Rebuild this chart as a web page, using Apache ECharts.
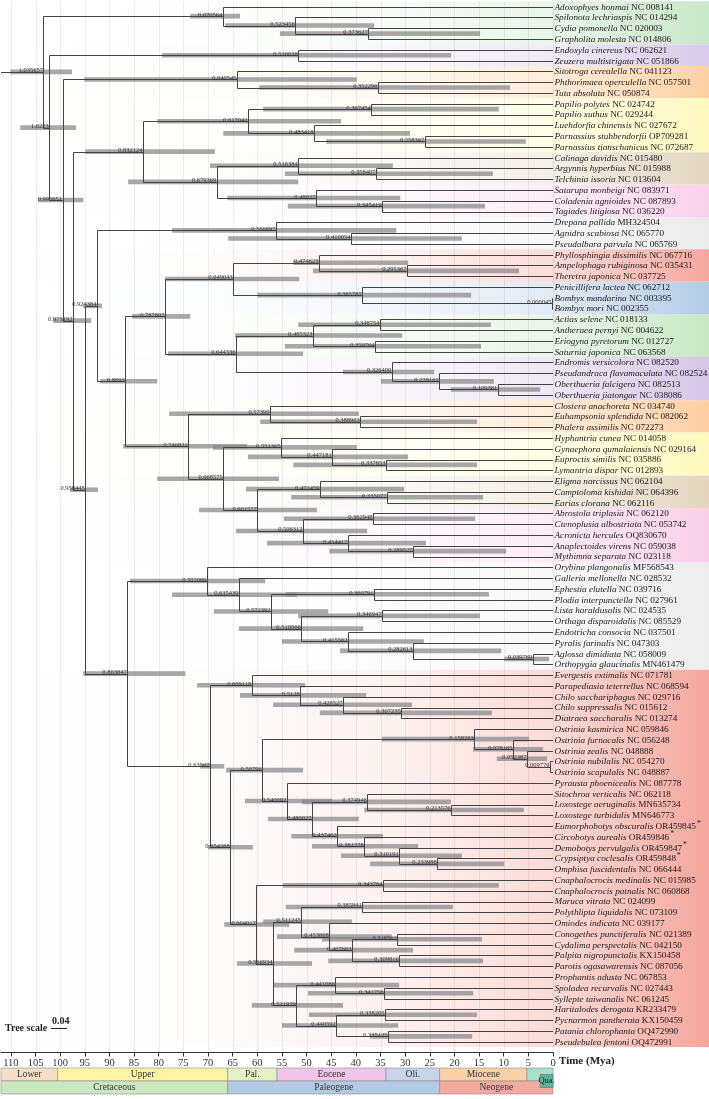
<!DOCTYPE html>
<html><head><meta charset="utf-8">
<script src="https://cdn.jsdelivr.net/npm/echarts@6/dist/echarts.min.js"></script>
<style>html,body{margin:0;padding:0;background:#fff}#c{width:709px;height:1099px}</style>
</head><body><div id="c"></div>
<script>
// ---------- DATA ----------
const species = ['Adoxophyes honmai','Spilonota lechriaspis','Cydia pomonella','Grapholita molesta','Endoxyla cinereus','Zeuzera multistrigata','Sitotroga cerealella','Phthorimaea operculella','Tuta absoluta','Papilio polytes','Papilio xuthus','Luehdorfia chinensis','Parnassius stubbendorfii','Parnassius tianschanicus','Calinaga davidis','Argynnis hyperbius','Telchinia issoria','Satarupa monbeigi','Coladenia agnioides','Tagiades litigiosa','Drepana pallida','Agnidra scabiosa','Pseudalbara parvula','Phyllosphingia dissimilis','Ampelophaga rubiginosa','Theretra japonica','Penicillifera lactea','Bombyx mandarina','Bombyx mori','Actias selene','Antheraea pernyi','Eriogyna pyretorum','Saturnia japonica','Endromis versicolora','Pseudandraca flavamaculata','Oberthueria falcigera','Oberthueria jiatongae','Clostera anachoreta','Euhampsonia splendida','Phalera assimilis','Hyphantria cunea','Gynaephora qumalaiensis','Euproctis similis','Lymantria dispar','Eligma narcissus','Camptoloma kishidai','Earias clorana','Abrostola triplasia','Ctenoplusia albostriata','Acronicta hercules','Anaplectoides virens','Mythimna separata','Orybina plangonalis','Galleria mellonella','Ephestia elutella','Plodia interpunctella','Lista haraldusalis','Orthaga disparoidalis','Endotricha consocia','Pyralis farinalis','Aglossa dimidiata','Orthopygia glaucinalis','Evergestis extimalis','Parapediasia teterrellus','Chilo sacchariphagus','Chilo suppressalis','Diatraea saccharalis','Ostrinia kasmirica','Ostrinia furnacalis','Ostrinia zealis','Ostrinia nubilalis','Ostrinia scapulalis','Pyrausta phoenicealis','Sitochroa verticalis','Loxostege aeruginalis','Loxostege turbidalis','Eumorphobotys obscuralis','Circobotys aurealis','Demobotys pervulgalis','Crypsiptya coclesalis','Omphisa fuscidentalis','Cnaphalocrocis medinalis','Cnaphalocrocis patnalis','Maruca vitrata','Polythlipta liquidalis','Omiodes indicata','Conogethes punctiferalis','Cydalima perspectalis','Palpita nigropunctalis','Parotis ogasawarensis','Prophantis adusta','Spoladea recurvalis','Syllepte taiwanalis','Haritalodes derogata','Pycnarmon pantherata','Patania chlorophanta','Pseudebulea fentoni'];
const accessions = ['NC 008141','NC 014294','NC 020003','NC 014806','NC 062621','NC 051866','NC 041123','NC 057501','NC 050874','NC 024742','NC 029244','NC 027672','OP709281','NC 072687','NC 015480','NC 015988','NC 013604','NC 083971','NC 087893','NC 036220','MH324504','NC 065770','NC 065769','NC 067716','NC 035431','NC 037725','NC 062712','NC 003395','NC 002355','NC 018133','NC 004622','NC 012727','NC 063568','NC 082520','NC 082524','NC 082513','NC 038086','NC 034740','NC 082062','NC 072273','NC 014058','NC 029164','NC 035886','NC 012893','NC 062104','NC 064396','NC 062116','NC 062120','NC 053742','OQ830670','NC 059038','NC 023118','MF568543','NC 028532','NC 039716','NC 027961','NC 024535','NC 085529','NC 037501','NC 047303','NC 058009','MN461479','NC 071781','NC 068594','NC 029716','NC 015612','NC 013274','NC 059846','NC 056248','NC 048888','NC 054270','NC 048887','NC 087778','NC 062118','MN635734','MN646773','OR459845','OR459846','OR459847','OR459848','NC 066444','NC 015985','NC 060868','NC 024099','NC 073109','NC 039177','NC 021389','NC 042150','KX150458','NC 087056','NC 067853','NC 027443','NC 061245','KR233479','KX150459','OQ472990','OQ472991'];
const starredLeaves = [77, 78, 79, 80];

// internal node: [id, child1, child2]  (leaves are L1..L97)
const topology = [
['R','T','N1'],['T','L1','T2'],['T2','L2','T3'],['T3','L3','L4'],
['N1','C','N2'],['C','L5','L6'],['N2','G','N3'],['G','L7','G2'],['G2','L8','L9'],
['N3','P','N4'],['P','Pa','Ny'],['Pa','Pa1','Pa2'],['Pa1','L10','L11'],['Pa2','L12','Pa3'],['Pa3','L13','L14'],
['Ny','Ny1','He'],['Ny1','L15','Ny2'],['Ny2','L16','L17'],['He','L18','He2'],['He2','L19','L20'],
['N4','N5','N13'],['N5','D','N6'],['D','L21','D2'],['D2','L22','L23'],
['N6','N7','N10'],['N7','S','Sa'],['S','Sp','B'],['Sp','L24','Sp2'],['Sp2','L25','L26'],['B','L27','B2'],['B2','L28','L29'],
['Sa','Sa1','E'],['Sa1','Sa2','Sa3'],['Sa2','L30','L31'],['Sa3','L32','L33'],['E','L34','E2'],['E2','L35','E3'],['E3','L36','L37'],
['N10','No','N11'],['No','L38','No2'],['No2','L39','L40'],['N11','Er','N12'],['Er','L41','Er2'],['Er2','L42','Er3'],['Er3','L43','L44'],
['N12','Nl','Nc'],['Nl','L45','Nl2'],['Nl2','L46','L47'],['Nc','Nc1','Nc2'],['Nc1','L48','L49'],['Nc2','L50','Nc3'],['Nc3','L51','L52'],
['N13','Py','Cr'],['Py','L53','Py2'],['Py2','L54','Py3'],['Py3','Py4','Py5'],['Py4','L55','L56'],['Py5','Py6','Py7'],['Py6','L57','L58'],['Py7','L59','Py8'],['Py8','L60','Py9'],['Py9','L61','L62'],
['Cr','Cr1','Cr2'],['Cr1','L63','Cr1b'],['Cr1b','L64','Cr1c'],['Cr1c','L65','Cr1d'],['Cr1d','L66','L67'],
['Cr2','Cr3','Cr4'],['Cr3','Os','Cr5'],['Os','L68','Os2'],['Os2','L69','Os3'],['Os3','L70','Os4'],['Os4','L71','L72'],
['Cr5','L73','Pt'],['Pt','Pt1','Pt2'],['Pt1','L74','Lo'],['Lo','L75','L76'],['Pt2','L77','Pt3'],['Pt3','L78','Pt4'],['Pt4','L79','Pt5'],['Pt5','L80','L81'],
['Cr4','Cn','Q'],['Cn','L82','L83'],['Q','Q1','Q2'],['Q1','Q1a','Q1b'],['Q1a','L84','L85'],['Q1b','L86','Q1c'],['Q1c','Q1d','Q1e'],['Q1d','L87','L88'],['Q1e','L89','L90'],
['Q2','Q2a','Q2b'],['Q2a','L91','Q2c'],['Q2c','L92','L93'],['Q2b','Q2d','Q2e'],['Q2d','L94','L95'],['Q2e','L96','L97']
];
// node label (tree height) shown at each node
const nodeLabels = [
['R','1.035657'],['T','0.670564'],['T2','0.523456'],['T3','0.373627'],['N1','1.0223'],['C','0.516038'],['N2','0.995651'],['G','0.640545'],['G2','0.352296'],
['N3','0.973192'],['P','0.832124'],['Pa','0.617042'],['Pa1','0.367454'],['Pa2','0.483418'],['Pa3','0.258367'],['Ny','0.679369'],['Ny1','0.516384'],['Ny2','0.358407'],['He','0.48027'],['He2','0.345419'],
['N4','0.958445'],['N5','0.924384'],['D','0.566897'],['D2','0.410054'],['N6','0.8693'],['N7','0.787807'],['S','0.649043'],['Sp','0.474623'],['Sp2','0.295367'],['B','0.385787'],['B2','0.000045'],
['Sa','0.644336'],['Sa1','0.485323'],['Sa2','0.348754'],['Sa3','0.359764'],['E','0.326400'],['E2','0.229162'],['E3','0.109381'],
['N10','0.740822'],['No','0.57399'],['No2','0.388963'],['N11','0.668575'],['Er','0.551365'],['Er2','0.447181'],['Er3','0.337853'],
['N12','0.601577'],['Nl','0.471459'],['Nl2','0.335077'],['Nc','0.506312'],['Nc1','0.362948'],['Nc2','0.414417'],['Nc3','0.289527'],
['N13','0.863847'],['Py','0.702089'],['Py2','0.635439'],['Py3','0.572392'],['Py4','0.360791'],['Py5','0.510066'],['Py6','0.346947'],['Py7','0.415562'],['Py8','0.282613'],['Py9','0.039769'],
['Cr','0.63567'],['Cr1','0.609118'],['Cr1b','0.5128'],['Cr1c','0.426527'],['Cr1d','0.307235'],
['Cr2','0.654268'],['Cr3','0.58796'],['Os','0.158263'],['Os2','0.078165'],['Os3','0.052387'],['Os4','0.009776'],
['Cr5','0.540092'],['Pt','0.480027'],['Pt1','0.374946'],['Lo','0.213576'],['Pt2','0.437462'],['Pt3','0.381578'],['Pt4','0.310191'],['Pt5','0.233988'],
['Cr4','0.604017'],['Cn','0.343764'],['Q','0.566934'],['Q1','0.511245'],['Q1a','0.385841'],['Q1b','0.453868'],['Q1c','0.407663'],['Q1d','0.316563'],['Q1e','0.309816'],
['Q2','0.521939'],['Q2a','0.441086'],['Q2c','0.341756'],['Q2b','0.440592'],['Q2d','0.338205'],['Q2e','0.335125']
];
// node age (Mya)
const nodeAges = [
['R',103.4],['T',67.0],['T2',52.3],['T3',37.5],['N1',102.2],['C',51.7],['N2',99.5],['G',64.1],['G2',35.5],
['N3',97.4],['P',83.2],['Pa',61.9],['Pa1',36.9],['Pa2',48.5],['Pa3',26.0],['Ny',68.2],['Ny1',51.7],['Ny2',35.9],['He',48.1],['He2',34.7],
['N4',94.9],['N5',92.5],['D',56.2],['D2',41.0],['N6',86.8],['N7',78.7],['S',64.9],['Sp',47.5],['Sp2',29.6],['B',38.7],['B2',0.2],
['Sa',64.3],['Sa1',48.7],['Sa2',35.1],['Sa3',36.1],['E',32.7],['E2',23.1],['E3',11.2],
['N10',74.0],['No',57.4],['No2',39.1],['N11',66.9],['Er',55.2],['Er2',44.8],['Er3',33.9],
['N12',60.0],['Nl',47.3],['Nl2',33.7],['Nc',50.7],['Nc1',36.5],['Nc2',41.6],['Nc3',28.4],
['N13',86.4],['Py',70.2],['Py2',63.7],['Py3',57.2],['Py4',36.3],['Py5',51.1],['Py6',34.7],['Py7',41.6],['Py8',28.4],['Py9',4.1],
['Cr',69.6],['Cr1',61.1],['Cr1b',51.3],['Cr1c',42.6],['Cr1d',30.8],
['Cr2',65.5],['Cr3',59.0],['Os',16.0],['Os2',8.1],['Os3',5.3],['Os4',0.6],
['Cr5',54.0],['Pt',48.9],['Pt1',37.7],['Lo',20.7],['Pt2',43.8],['Pt3',38.3],['Pt4',31.2],['Pt5',23.5],
['Cr4',60.2],['Cn',34.5],['Q',56.8],['Q1',51.1],['Q1a',38.7],['Q1b',45.4],['Q1c',40.8],['Q1d',31.6],['Q1e',31.2],
['Q2',52.1],['Q2a',44.2],['Q2c',34.3],['Q2b',44.0],['Q2d',34.1],['Q2e',33.5]
];
// 95% HPD of node ages: [id, oldest, youngest]
const hpdIntervals = [
['R',110.1,97.6],['T',73.6,63.5],['T2',66.5,36.3],['T3',55.4,14.8],['N1',108.1,96.8],['C',79.3,20.7],['N2',104.5,95.3],['G',95.1,39.8],['G2',59.6,8.7],
['N3',101.4,93.7],['P',94.9,68.6],['Pa',80.3,43.0],['Pa1',58.8,11.0],['Pa2',66.9,29.0],['Pa3',46.0,5.5],['Ny',86.2,51.7],['Ny1',69.6,32.5],['Ny2',54.4,12.2],['He',66.1,31.0],['He2',53.8,13.8],
['N4',98.0,92.3],['N5',95.3,91.5],['D',77.3,31.8],['D2',65.9,18.5],['N6',91.9,80.3],['N7',85.4,73.6],['S',78.7,51.5],['Sp',52.7,29.4],['Sp2',48.7,6.9],['B',60.0,16.6],
['Sa',78.1,50.7],['Sa1',64.5,30.6],['Sa2',51.7,12.6],['Sa3',54.4,14.6],['E',42.6,24.1],['E2',34.9,12.0],['E3',20.7,2.6],
['N10',87.2,62.1],['No',77.9,39.4],['No2',59.4,15.4],['N11',80.3,55.6],['Er',69.0,39.8],['Er2',61.9,29.4],['Er3',52.7,15.4],
['N12',71.8,47.9],['Nl',62.3,30.2],['Nl2',53.1,14.2],['Nc',64.3,37.7],['Nc1',54.6,15.8],['Nc2',58.0,25.8],['Nc3',45.4,9.5],
['N13',95.3,74.6],['Py',85.8,58.4],['Py2',77.3,51.9],['Py3',68.8,45.6],['Py4',54.2,13.0],['Py5',63.7,38.5],['Py6',51.7,14.8],['Py7',55.0,26.2],['Py8',43.2,10.5],['Py9',9.9,0.8],
['Cr',71.6,66.7],['Cr1',72.2,50.3],['Cr1b',63.5,37.9],['Cr1c',56.8,28.6],['Cr1d',47.3,12.4],
['Cr2',70.0,60.9],['Cr3',66.3,50.7],['Os',34.7,4.9],['Os2',16.2,2.0],['Os3',11.4,1.2],
['Cr5',62.5,44.8],['Pt',57.8,39.4],['Pt1',50.9,20.7],['Lo',38.3,5.9],['Pt2',53.1,34.5],['Pt3',48.9,27.4],['Pt4',43.0,18.5],['Pt5',37.1,9.9],
['Cr4',66.7,53.5],['Cn',54.8,11.0],['Q',64.1,48.9],['Q1',58.8,40.8],['Q1a',54.2,20.3],['Q1b',56.0,32.7],['Q1c',52.5,28.4],['Q1d',46.9,14.4],['Q1e',45.6,14.2],
['Q2',61.1,42.6],['Q2a',56.8,31.2],['Q2c',49.7,16.2],['Q2b',55.0,31.4],['Q2d',49.5,15.4],['Q2e',37.1,16.4]
];
const rootStubAge = 112;
// clade background bands: [first leaf, last leaf, colour]
const cladeBands = [
[1,4,'#c9e7c9'],[5,6,'#d9cbe9'],[7,9,'#fdd1a3'],[10,14,'#fff9c0'],[15,17,'#e3d6c2'],[18,20,'#f9d1ea'],[21,23,'#ebebeb'],
[24,26,'#f5a89e'],[27,29,'#b4cbe6'],[30,33,'#c9e7c6'],[34,37,'#d6c5e6'],[38,40,'#fdcfa3'],[41,44,'#fff9bf'],[45,47,'#e3d5bf'],
[48,52,'#f9cfe8'],[53,62,'#ededed'],[63,97,'#f4a69c']
];
const timeTicks = [110,105,100,95,90,85,80,75,70,65,60,55,50,45,40,35,30,25,20,15,10,5,0];
// geological time scale: [name, start (Mya), end (Mya), colour]
const epochs = [['Lower',112,100.5,'#f3dfc3'],['Upper',100.5,66,'#fff4a3'],['Pal.',66,56,'#e3f3c6'],['Eocene',56,33.9,'#f3c5ea'],['Oli.',33.9,23,'#c8d4ea'],['Miocene',23,5.3,'#fdd1a8'],['',5.3,0,'#a6dfca']];
const periods = [['Cretaceous',112,66,'#cbe8c1'],['Paleogene',66,23,'#b2cae3'],['Neogene',23,0,'#f5aaa0']];
const quaternary = ['Qua.',2.6,0,'#5ab59b'];

// ---------- BUILD ----------
const isLeaf = id => /^L\d+$/.test(id);
const kids = {}; topology.forEach(r => kids[r[0]] = [r[1], r[2]]);
const ageMap = {}; nodeAges.forEach(r => ageMap[r[0]] = r[1]);
const yCache = {};
function yOf(id){ if (isLeaf(id)) return +id.slice(1); if (yCache[id]==null) yCache[id] = (yOf(kids[id][0]) + yOf(kids[id][1]))/2; return yCache[id]; }
function aOf(id){ return isLeaf(id) ? 0 : ageMap[id]; }

const branchData = topology.map(([id,c1,c2]) => [aOf(id), yOf(id), aOf(c1), yOf(c1), aOf(c2), yOf(c2)]);
const rootData = [[rootStubAge, yOf('R'), aOf('R'), yOf('R')]];
const hpdData = hpdIntervals.map(([id,o,y]) => [o, y, yOf(id)]);
const labelData = nodeLabels.map(([id,t]) => [aOf(id), yOf(id), t]);
const leafData = species.map((s,i) => [0, i+1, s, accessions[i], starredLeaves.indexOf(i+1) >= 0 ? 1 : 0]);
const bandData = cladeBands.map(b => [b[0], b[1], b[2]]);
const gridData = timeTicks.map(t => [t]);
const geoData = epochs.map(e => [e[1], e[2], 0, e[0], e[3]]).concat(periods.map(e => [e[1], e[2], 1, e[0], e[3]]));

const SERIF = 'Liberation Serif';
const LEAF_FS = 9.2;
const px = v => Math.round(v) + 0.5;
function hexA(hex, a){ const n = parseInt(hex.slice(1),16); return 'rgba('+((n>>16)&255)+','+((n>>8)&255)+','+(n&255)+','+a+')'; }

const chart = echarts.init(document.getElementById('c'), null, {renderer:'canvas'});
const option = {
  animation: false,
  backgroundColor: '#ffffff',
  grid: [
    {left: 1, right: 156, top: 1.31, height: 1051.2, containLabel: false, outerBoundsMode: 'none'},
    {left: 1, right: 156, top: 1068, height: 26, containLabel: false, outerBoundsMode: 'none'}
  ],
  xAxis: [
    {type:'value', gridIndex:0, min:0, max:112, inverse:true, interval:5,
     axisLine:{show:true, lineStyle:{color:'#333', width:1}},
     axisTick:{show:true, length:4, lineStyle:{color:'#333'}},
     axisLabel:{show:true, showMaxLabel:false, fontFamily:SERIF, fontSize:10.5, color:'#333', margin:5},
     splitLine:{show:false}},
    {type:'value', gridIndex:1, min:0, max:112, inverse:true, show:false}
  ],
  yAxis: [
    {type:'value', gridIndex:0, min:0.5, max:98, inverse:true, show:false},
    {type:'value', gridIndex:1, min:0, max:2, inverse:true, show:false}
  ],
  graphic: [
    {type:'text', left: 559, top: 1056, style:{text:'Time (Mya)', fontFamily:SERIF, fontWeight:'bold', fontSize:11, fill:'#222'}},
    {type:'text', left: 5, top: 1023, style:{text:'Tree scale', fontFamily:SERIF, fontWeight:'bold', fontSize:10, fill:'#222'}},
    {type:'text', left: 52, top: 1016, style:{text:'0.04', fontFamily:SERIF, fontWeight:'bold', fontSize:10, fill:'#222'}},
    {type:'line', shape:{x1:51, y1:1028.5, x2:67, y2:1028.5}, style:{stroke:'#222', lineWidth:1}}
  ],
  series: [
    { // clade background bands
      type:'custom', xAxisIndex:0, yAxisIndex:0, z:1, silent:true, clip:false,
      data: bandData,
      renderItem: function(params, api){
        const y0 = api.coord([0, api.value(0) - 0.5])[1];
        const y1 = api.coord([0, api.value(1) + 0.5])[1];
        const c = bandData[params.dataIndex][2];
        const W = api.getWidth();
        return {type:'rect', shape:{x:0, y:y0, width:W, height:y1-y0},
          style:{fill:{type:'linear', x:0, y:0, x2:1, y2:0, global:false,
            colorStops:[{offset:0,color:hexA(c,0)},{offset:0.3,color:hexA(c,0.04)},{offset:0.56,color:hexA(c,0.16)},{offset:0.78,color:hexA(c,0.4)},{offset:1,color:hexA(c,1)}]}}};
      }
    },
    { // vertical time grid lines
      type:'custom', xAxisIndex:0, yAxisIndex:0, z:2, silent:true, clip:false,
      data: gridData,
      renderItem: function(params, api){
        const x = px(api.coord([api.value(0), 1])[0]);
        const yT = api.coord([0, 0.5])[1], yB = api.coord([0, 98])[1];
        return {type:'line', shape:{x1:x, y1:yT, x2:x, y2:yB}, style:{stroke:'rgba(0,0,0,0.07)', lineWidth:1}};
      }
    },
    { // HPD bars
      type:'custom', xAxisIndex:0, yAxisIndex:0, z:3, silent:true, clip:false,
      data: hpdData,
      renderItem: function(params, api){
        const a = api.coord([api.value(0), api.value(2)]);
        const b = api.coord([api.value(1), api.value(2)]);
        return {type:'rect', shape:{x:a[0], y:a[1]-2.3, width:b[0]-a[0], height:4.6}, style:{fill:'rgba(135,135,135,0.72)'}};
      }
    },
    { // root stub
      type:'custom', xAxisIndex:0, yAxisIndex:0, z:4, silent:true, clip:false,
      data: rootData,
      renderItem: function(params, api){
        const a = api.coord([api.value(0), api.value(1)]);
        const b = api.coord([api.value(2), api.value(3)]);
        return {type:'line', shape:{x1:a[0], y1:px(a[1]), x2:px(b[0]), y2:px(b[1])}, style:{stroke:'#444', lineWidth:1}};
      }
    },
    { // branches
      type:'custom', xAxisIndex:0, yAxisIndex:0, z:4, silent:true, clip:false,
      data: branchData,
      renderItem: function(params, api){
        const p = api.coord([api.value(0), api.value(1)]);
        const c1 = api.coord([api.value(2), api.value(3)]);
        const c2 = api.coord([api.value(4), api.value(5)]);
        const x = px(p[0]), y1 = px(c1[1]), y2 = px(c2[1]);
        return {type:'polyline', shape:{points:[[c1[0],y1],[x,y1],[x,y2],[c2[0],y2]]}, style:{stroke:'#444', lineWidth:1, fill:null}};
      }
    },
    { // node labels
      type:'custom', xAxisIndex:0, yAxisIndex:0, z:5, silent:true, clip:false,
      data: labelData,
      renderItem: function(params, api){
        const p = api.coord([api.value(0), api.value(1)]);
        return {type:'text', x:p[0]-0.5, y:p[1]-1.2, style:{text:labelData[params.dataIndex][2], fontFamily:SERIF, fontSize:6.5, fill:'#333', align:'right', verticalAlign:'middle'}};
      }
    },
    { // leaf labels
      type:'custom', xAxisIndex:0, yAxisIndex:0, z:5, silent:true, clip:false,
      data: leafData,
      renderItem: function(params, api){
        const d = leafData[params.dataIndex];
        const p = api.coord([0, d[1]]);
        const txt = '{i|' + d[2] + '} {n|' + d[3] + '}' + (d[4] ? '{s|*}' : '');
        return {type:'text', x:p[0]+1.5, y:p[1]+0.5, style:{text:txt, align:'left', verticalAlign:'middle', fontFamily:SERIF, fontSize:LEAF_FS, fill:'#1a1a1a',
          rich:{i:{fontFamily:SERIF, fontStyle:'italic', fontSize:LEAF_FS, fill:'#1a1a1a'}, n:{fontFamily:SERIF, fontSize:LEAF_FS, fill:'#1a1a1a'}, s:{fontFamily:SERIF, fontSize:7.5, fill:'#1a1a1a', verticalAlign:'top', padding:[0,0,6,1]}}}};
      }
    },
    { // geological time scale
      type:'custom', xAxisIndex:1, yAxisIndex:1, z:2, silent:true, clip:false,
      data: geoData,
      renderItem: function(params, api){
        const d = geoData[params.dataIndex];
        const a = api.coord([d[0], d[2]]);
        const b = api.coord([d[1], d[2] + 1]);
        return {type:'rect', shape:{x:a[0], y:a[1], width:b[0]-a[0], height:b[1]-a[1]},
          style:{fill:d[4], stroke:'#8a8a8a', lineWidth:0.6},
          textContent:{style:{text:d[3], fontFamily:SERIF, fontSize:9.5, fill:'#333'}}, textConfig:{position:'inside'}};
      }
    },
    { // Quaternary
      type:'custom', xAxisIndex:1, yAxisIndex:1, z:3, silent:true, clip:false,
      data: [[quaternary[1], quaternary[2]]],
      renderItem: function(params, api){
        const a = api.coord([api.value(0), 0.5]);
        const b = api.coord([api.value(1), 1.5]);
        return {type:'rect', shape:{x:a[0], y:a[1], width:b[0]-a[0], height:b[1]-a[1]},
          style:{fill:quaternary[3], stroke:'#6a6a6a', lineWidth:0.6},
          textContent:{style:{text:quaternary[0], fontFamily:SERIF, fontSize:8.5, fill:'#222'}}, textConfig:{position:'inside'}};
      }
    }
  ]
};
chart.setOption(option);
</script>
</body></html>
